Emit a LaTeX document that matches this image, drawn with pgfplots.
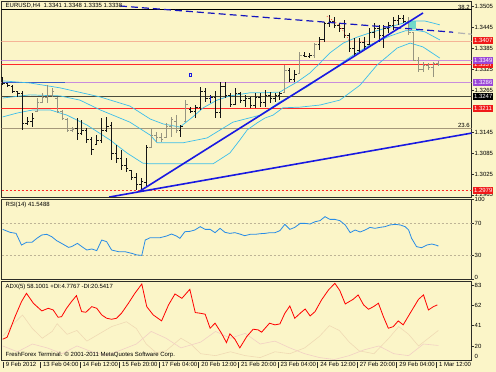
\documentclass[border=0pt]{standalone}
\usepackage{pgfplots}
\pgfplotsset{compat=1.18}
\usepackage{pgfplotstable}
\usepackage{fontspec}
\setmainfont{Liberation Sans}
\newcommand{\lbl}{\fontsize{6}{7}\selectfont}

\definecolor{bgc}{RGB}{251,245,200}
\definecolor{frm}{RGB}{45,45,40}
\definecolor{barK}{RGB}{20,20,20}
\definecolor{barG}{RGB}{150,148,128}
\definecolor{bband}{RGB}{60,190,235}
\definecolor{rsic}{RGB}{40,140,230}
\definecolor{tblue}{RGB}{25,25,225}
\definecolor{dblue}{RGB}{20,20,190}
\definecolor{sblue}{RGB}{60,90,200}
\definecolor{salmon}{RGB}{245,180,150}
\definecolor{lpurp}{RGB}{200,140,220}
\definecolor{bpurp}{RGB}{155,70,215}
\definecolor{lred}{RGB}{255,40,40}
\definecolor{bred}{RGB}{240,25,25}
\definecolor{dline}{RGB}{75,75,60}
\definecolor{tan}{RGB}{165,152,122}
\definecolor{lvl}{RGB}{190,180,150}
\definecolor{di1}{RGB}{240,218,180}
\definecolor{di2}{RGB}{242,208,196}
\definecolor{teal2}{RGB}{80,210,200}

% bars: i open high low close (black)
\pgfplotstableread{
i O H L C
0 1.3300 1.3302 1.3279 1.3285
1 1.3283 1.3285 1.3274 1.3278
2 1.3276 1.3279 1.3257 1.3262
3 1.3260 1.3262 1.3245 1.3255
4 1.3255 1.3262 1.3151 1.3170
5 1.3170 1.3188 1.3165 1.3175
6 1.3175 1.3199 1.3159 1.3185
15 1.3155 1.3185 1.3122 1.3140
16 1.3140 1.3179 1.3136 1.3150
17 1.3150 1.3157 1.3114 1.3125
18 1.3125 1.3130 1.3079 1.3095
19 1.3110 1.3136 1.3108 1.3120
20 1.3120 1.3185 1.3114 1.3150
21 1.3150 1.3188 1.3145 1.3160
22 1.3165 1.3173 1.3065 1.3085
23 1.3085 1.3108 1.3056 1.3070
24 1.3070 1.3094 1.3036 1.3050
25 1.3050 1.3071 1.3031 1.3040
26 1.3035 1.3036 1.3008 1.3015
27 1.3015 1.3028 1.2979 1.2995
28 1.2995 1.3014 1.2979 1.3005
29 1.3000 1.3108 1.2988 1.3100
36 1.3150 1.3165 1.3130 1.3160
38 1.3210 1.3216 1.3199 1.3205
39 1.3205 1.3222 1.3185 1.3215
40 1.3215 1.3274 1.3208 1.3260
41 1.3260 1.3271 1.3231 1.3240
42 1.3240 1.3251 1.3228 1.3245
43 1.3245 1.3262 1.3185 1.3200
44 1.3200 1.3288 1.3185 1.3275
45 1.3275 1.3288 1.3242 1.3250
46 1.3250 1.3257 1.3216 1.3225
47 1.3225 1.3271 1.3222 1.3255
48 1.3255 1.3259 1.3228 1.3235
49 1.3235 1.3251 1.3216 1.3240
50 1.3240 1.3245 1.3213 1.3220
51 1.3220 1.3257 1.3213 1.3245
52 1.3245 1.3257 1.3216 1.3230
53 1.3230 1.3265 1.3216 1.3250
54 1.3250 1.3259 1.3228 1.3240
55 1.3240 1.3257 1.3231 1.3250
56 1.3250 1.3259 1.3236 1.3255
58 1.3320 1.3328 1.3288 1.3295
59 1.3295 1.3322 1.3288 1.3310
61 1.3365 1.3373 1.3359 1.3362
62 1.3362 1.3371 1.3356 1.3365
64 1.3395 1.3417 1.3379 1.3410
65 1.3410 1.3459 1.3402 1.3455
66 1.3455 1.3479 1.3445 1.3460
67 1.3460 1.3473 1.3442 1.3450
68 1.3450 1.3456 1.3431 1.3440
69 1.3440 1.3465 1.3413 1.3420
70 1.3420 1.3428 1.3374 1.3385
71 1.3385 1.3414 1.3359 1.3370
72 1.3378 1.3414 1.3374 1.3400
73 1.3400 1.3417 1.3379 1.3390
74 1.3395 1.3442 1.3393 1.3430
75 1.3430 1.3456 1.3413 1.3440
76 1.3440 1.3451 1.3402 1.3420
77 1.3420 1.3451 1.3385 1.3440
78 1.3440 1.3459 1.3428 1.3450
79 1.3450 1.3473 1.3436 1.3465
80 1.3465 1.3479 1.3451 1.3470
81 1.3470 1.3479 1.3456 1.3462
}\barsK

% bars (grey)
\pgfplotstableread{
i O H L C
7 1.3205 1.3242 1.3202 1.3230
8 1.3230 1.3257 1.3228 1.3245
9 1.3245 1.3279 1.3228 1.3250
10 1.3250 1.3271 1.3245 1.3260
11 1.3240 1.3245 1.3199 1.3205
12 1.3205 1.3208 1.3179 1.3185
13 1.3180 1.3185 1.3145 1.3150
14 1.3150 1.3159 1.3145 1.3152
30 1.3100 1.3157 1.3099 1.3135
31 1.3135 1.3145 1.3117 1.3130
32 1.3130 1.3142 1.3117 1.3125
33 1.3130 1.3171 1.3128 1.3160
34 1.3160 1.3188 1.3130 1.3180
35 1.3175 1.3193 1.3142 1.3150
37 1.3175 1.3236 1.3173 1.3225
57 1.3257 1.3336 1.3257 1.3320
60 1.3313 1.3373 1.3313 1.3365
63 1.3365 1.3399 1.3356 1.3395
82 1.3462 1.3473 1.3422 1.3430
83 1.3430 1.3431 1.3348 1.3350
84 1.3350 1.3359 1.3316 1.3325
85 1.3325 1.3345 1.3316 1.3335
86 1.3335 1.3342 1.3322 1.3330
87 1.3330 1.3345 1.3302 1.3341
88 1.3341 1.3348 1.3335 1.3338
}\barsG

\pgfplotsset{
  mtpanel/.style={scale only axis, width=470pt, anchor=south west,
    xmin=-0.24, xmax=94.7, clip mode=individual,
    axis background/.style={fill=bgc},
    axis line style={draw=frm, line width=0.8pt},
    tick style={draw=frm, line width=0.5pt},
    ytick pos=right, yticklabel pos=right, tick align=outside,
    major tick length=2pt,
    yticklabel style={font=\lbl, anchor=west, inner sep=1pt},
    xtick=\empty},
  ohlcV/.style={color=#1, only marks, mark=*, mark size=0pt,
    error bars/.cd, y dir=both, y explicit, error mark=none,
    error bar style={line width=0.85pt, color=#1}},
  ohlcT/.style={color=#1, only marks, mark=-, mark size=1.0pt, line width=0.7pt},
  hl/.style={mark=none, line width=#1},
}

\begin{document}
\begin{tikzpicture}
\useasboundingbox (0,0) rectangle (496pt,372pt);
\fill[bgc] (0,0) rectangle (496pt,372pt);

% ================= MAIN PRICE PANEL =================
\begin{axis}[mtpanel, at={(1.5pt,175pt)}, height=196pt,
  ymin=1.29592, ymax=1.35192,
  ytick={1.2965,1.3025,1.3085,1.3145,1.3265,1.3325,1.3385,1.3445,1.3505},
  yticklabels={\raisebox{1pt}{1.2965},1.3025,1.3085,1.3145,1.3265,1.3325,1.3385,1.3445,1.3505}]

% horizontal levels
\addplot[hl=0.8pt, black] coordinates {(-1,1.3494) (96,1.3494)};
\addplot[hl=0.8pt, salmon] coordinates {(-1,1.3405) (96,1.3405)};
\addplot[hl=0.8pt, lpurp] coordinates {(-1,1.3349) (96,1.3349)};
\addplot[hl=0.8pt, lred] coordinates {(-1,1.3337) (96,1.3337)};
\addplot[hl=0.8pt, lpurp] coordinates {(-1,1.3286) (96,1.3286)};
\addplot[hl=0.8pt, dline] coordinates {(-1,1.3247) (96,1.3247)};
\addplot[hl=0.8pt, lred] coordinates {(-1,1.3211) (96,1.3211)};
\addplot[hl=0.8pt, tan] coordinates {(-1,1.3156) (96,1.3156)};
\addplot[hl=0.8pt, lred, dash pattern=on 2pt off 2pt] coordinates {(-1,1.2979) (96,1.2979)};
\addplot[hl=1.3pt, sblue] coordinates {(0,1.3286) (12.6,1.3286)};

% Bollinger bands
\addplot[hl=0.7pt, bband] coordinates {(0,1.3291)(5.5,1.3285)(11.6,1.3271)(19.7,1.3245)(25.7,1.3219)(29.8,1.3182)(32.4,1.3168)(35.8,1.3159)(38.4,1.3188)(40.5,1.3214)(43.3,1.3236)(45.9,1.3248)(50.0,1.3257)(52.6,1.3257)(56.0,1.3259)(57.4,1.3271)(59.5,1.3288)(62.1,1.3314)(64.1,1.3342)(66.1,1.3371)(68.8,1.3399)(71.6,1.3416)(74.8,1.3431)(78.2,1.3445)(80.9,1.3456)(82.9,1.3462)(85.3,1.3462)(87.0,1.3456)(88.3,1.3451)};
\addplot[hl=0.7pt, bband] coordinates {(0,1.3242)(5.5,1.3251)(11.6,1.3248)(15.6,1.3236)(19.7,1.3208)(25.7,1.3173)(29.8,1.3136)(31.2,1.3114)(36.4,1.3114)(41.3,1.3128)(46.5,1.3173)(52.0,1.3193)(56.0,1.3231)(58.6,1.3251)(61.5,1.3274)(64.1,1.3299)(67.1,1.3328)(70.2,1.3359)(74.2,1.3394)(78.2,1.3419)(81.3,1.3434)(83.3,1.3436)(85.3,1.3431)(88.3,1.3408)};
\addplot[hl=0.7pt, bband] coordinates {(0,1.3188)(2.9,1.3199)(6.1,1.3208)(9.6,1.3208)(13.0,1.3193)(17.0,1.3165)(21.7,1.3122)(25.1,1.3085)(28.3,1.3056)(29.8,1.3054)(42.5,1.3054)(45.9,1.3085)(47.9,1.3122)(49.4,1.3151)(51.4,1.3171)(53.0,1.3185)(54.6,1.3193)(56.6,1.3214)(60.1,1.3216)(64.1,1.3222)(68.1,1.3236)(72.2,1.3279)(75.6,1.3336)(79.7,1.3385)(82.3,1.3399)(84.9,1.3388)(88.3,1.3356)};

% teal box
\addplot[fill=teal2, draw=none, fill opacity=0.8] coordinates {(81.9,1.3440)(83.4,1.3440)(83.4,1.3463)(81.9,1.3463)} -- cycle;

% bars
\addplot[ohlcV=barK] table[x=i, y expr={(\thisrow{H}+\thisrow{L})/2}, y error expr={(\thisrow{H}-\thisrow{L})/2}] {\barsK};
\addplot[ohlcT=barK] table[x expr={\thisrow{i}-0.2}, y=O] {\barsK};
\addplot[ohlcT=barK] table[x expr={\thisrow{i}+0.2}, y=C] {\barsK};
\addplot[ohlcV=barG] table[x=i, y expr={(\thisrow{H}+\thisrow{L})/2}, y error expr={(\thisrow{H}-\thisrow{L})/2}] {\barsG};
\addplot[ohlcT=barG] table[x expr={\thisrow{i}-0.2}, y=O] {\barsG};
\addplot[ohlcT=barG] table[x expr={\thisrow{i}+0.2}, y=C] {\barsG};

% trend lines
\addplot[hl=1.6pt, tblue] coordinates {(27.7,1.2976) (84.9,1.3485)};
\addplot[hl=1.6pt, tblue] coordinates {(21.5,1.2959) (94.8,1.3142)};
\addplot[hl=1.2pt, dblue, dash pattern=on 7pt off 4pt] coordinates {(23.7,1.3505) (91.0,1.3430)};
\addplot[hl=1.2pt, gray!60, dash pattern=on 7pt off 3pt] coordinates {(92.0,1.3428) (95,1.3424)};
\addplot[hl=0.7pt, lred, dotted] coordinates {(65.5,1.3476) (68,1.3450) (70.2,1.3402)};

% objects
\addplot[only marks, mark=square, mark size=1.4pt, tblue, line width=0.8pt] coordinates {(37.9,1.3308)};
\addplot[only marks, mark=|, mark size=2.5pt, tblue, line width=0.9pt] coordinates {(41.9,1.3240)};

% titles
\node[anchor=north west, font=\lbl, inner sep=0pt, xshift=4pt, yshift=-2.5pt] at (rel axis cs:0,1) {EURUSD,H4 \ 1.3341 1.3348 1.3335 1.3338};
\node[anchor=south east, font=\lbl, inner sep=0.5pt, xshift=-1pt] at (axis cs:94.7,1.3494) {38.2};
\node[anchor=south east, font=\lbl, inner sep=0.5pt, xshift=-1pt] at (axis cs:94.7,1.3156) {23.6};

\coordinate (b1) at (axis cs:94.7,1.3407);
\coordinate (b2) at (axis cs:94.7,1.3349);
\coordinate (b3) at (axis cs:94.7,1.3337);
\coordinate (b4) at (axis cs:94.7,1.3286);
\coordinate (b5) at (axis cs:94.7,1.3247);
\coordinate (b6) at (axis cs:94.7,1.3211);
\coordinate (b7) at (axis cs:94.7,1.2979);
\end{axis}

\begin{scope}[every node/.style={anchor=west, font=\lbl, text=white, inner xsep=1pt, inner ysep=0pt, minimum height=7pt, xshift=1.3pt}]
\node[fill=bred] at (b1) {1.3407};
\node[fill=bred] at (b3) {1.3337};
\node[fill=bpurp] at (b2) {1.3349};
\node[fill=bpurp] at (b4) {1.3286};
\node[fill=black] at (b5) {1.3247};
\node[fill=bred] at (b6) {1.3211};
\node[fill=bred] at (b7) {1.2979};
\end{scope}

% ================= RSI PANEL =================
\begin{axis}[mtpanel, at={(1.5pt,92.7pt)}, height=80pt,
  ymin=0, ymax=100, ytick={0,30,70,100},
  yticklabels={\raisebox{3pt}{0},30,70,\raisebox{-3.5pt}{100}}]
\addplot[hl=0.7pt, lvl, dash pattern=on 2pt off 2pt] coordinates {(-1,70) (96,70)};
\addplot[hl=0.7pt, lvl, dash pattern=on 2pt off 2pt] coordinates {(-1,30) (96,30)};
\addplot[hl=0.8pt, rsic] coordinates {(0,62.4)(1.5,58.7)(2.7,57.4)(3.8,42.8)(4.8,46.2)(5.9,46.2)(6.9,51.2)(7.9,55.4)(8.9,56.2)(9.9,53.3)(10.9,48.3)(11.9,44.9)(13.3,39.9)(13.9,40.8)(15.1,44.9)(16,40.8)(17,36.6)(18,37.9)(19,35.8)(20,49.1)(21,47.0)(22,36.6)(23.4,34.5)(24.7,34.5)(26.1,32.4)(27.1,30.4)(28.1,29.9)(28.8,49.1)(29.8,52.0)(30.8,52.0)(31.8,52.0)(33.1,54.1)(34.1,56.6)(35.1,54.1)(35.8,51.2)(36.8,59.5)(37.8,59.9)(38.8,61.6)(39.9,65.8)(40.9,62.4)(41.9,62.4)(42.9,58.3)(43.9,63.7)(44.9,58.7)(45.9,57.4)(46.9,58.3)(47.9,56.6)(48.9,54.5)(50,56.2)(51,56.2)(52,57.0)(53,57.4)(54,58.3)(55,58.3)(56,60.8)(57,68.7)(58,62.4)(59,64.9)(60.1,69.9)(61.1,69.9)(62.1,69.1)(63.1,72.0)(64.1,73.3)(65.1,78.3)(66.1,74.9)(67.1,74.9)(68.1,73.3)(69.2,67.9)(70.2,58.3)(71.2,61.6)(72.2,59.1)(73.2,61.6)(74.2,64.9)(75.2,63.7)(76.2,64.9)(77.2,65.8)(78.2,67.9)(79.3,68.7)(80.3,67.9)(81.3,65.8)(82,61.6)(82.6,51.2)(83.6,40.8)(84.6,39.5)(85.7,42.9)(86.7,44.1)(87.7,42.4)(88,41.5)};
\node[anchor=north west, font=\lbl, inner sep=0pt, xshift=4pt, yshift=-2.5pt] at (rel axis cs:0,1) {RSI(14) 41.5488};
\end{axis}

% ================= ADX PANEL =================
\begin{axis}[mtpanel, at={(1.5pt,12pt)}, height=79pt,
  ymin=5.5, ymax=87.1, ytick={20,41,62,83}, yticklabels={20,41,62,83},
  xtick={0,7.5,15.5,23.5,31.5,39.5,47.5,55.5,63.5,71.5,79.5,87.5},
  xtick pos=bottom,
  xtick style={draw=none},
  xticklabel style={font=\lbl, anchor=north west, inner sep=0pt, yshift=0.5pt},
  xticklabels={
    {\textcolor{frm}{\rule[-1pt]{0.5pt}{6pt}}\hspace{2.5pt}9 Feb 2012},
    {\textcolor{frm}{\rule[-1pt]{0.5pt}{6pt}}\hspace{2.5pt}13 Feb 04:00},
    {\textcolor{frm}{\rule[-1pt]{0.5pt}{6pt}}\hspace{2.5pt}14 Feb 12:00},
    {\textcolor{frm}{\rule[-1pt]{0.5pt}{6pt}}\hspace{2.5pt}15 Feb 20:00},
    {\textcolor{frm}{\rule[-1pt]{0.5pt}{6pt}}\hspace{2.5pt}17 Feb 04:00},
    {\textcolor{frm}{\rule[-1pt]{0.5pt}{6pt}}\hspace{2.5pt}20 Feb 12:00},
    {\textcolor{frm}{\rule[-1pt]{0.5pt}{6pt}}\hspace{2.5pt}21 Feb 20:00},
    {\textcolor{frm}{\rule[-1pt]{0.5pt}{6pt}}\hspace{2.5pt}23 Feb 04:00},
    {\textcolor{frm}{\rule[-1pt]{0.5pt}{6pt}}\hspace{2.5pt}24 Feb 12:00},
    {\textcolor{frm}{\rule[-1pt]{0.5pt}{6pt}}\hspace{2.5pt}27 Feb 20:00},
    {\textcolor{frm}{\rule[-1pt]{0.5pt}{6pt}}\hspace{2.5pt}29 Feb 04:00},
    {\textcolor{frm}{\rule[-1pt]{0.5pt}{6pt}}\hspace{2.5pt}1 Mar 12:00}}]
\addplot[hl=0.6pt, di1] coordinates {(0,30)(2,42)(4,52)(6,38)(8,28)(10,35)(11,43)(13,32)(15,36)(17,25)(19,31)(22,40)(25,45)(27,38)(29,22)(31,13)(33,15)(36,28)(38,22)(40,12)(43,10)(46,14)(49,10)(52,8)(55,14)(58,12)(61,18)(64,30)(66,41)(68,36)(70,24)(72,15)(75,12)(78,28)(80,40)(82,32)(84,20)(86,28)(88,36)};
\addplot[hl=0.6pt, di2] coordinates {(0,20)(3,14)(6,22)(9,18)(12,12)(15,20)(18,14)(21,10)(24,16)(27,22)(30,35)(33,28)(36,18)(40,24)(43,35)(46,28)(49,33)(52,22)(55,25)(58,18)(61,12)(64,8)(67,6)(70,10)(73,16)(76,20)(79,12)(82,10)(85,22)(88,20.5)};
\addplot[hl=0.8pt, red] coordinates {(0,27.0)(0.9,29.0)(2.5,50.3)(3.8,65.8)(4.8,74.4)(6.2,64.1)(7.9,56.2)(9.2,58.9)(10.2,57.2)(11.2,49.6)(11.9,50.3)(12.9,58.9)(13.9,65.8)(14.9,72.0)(15.95,55.5)(16.8,54.8)(18,60.6)(19,58.9)(20,52.1)(21,48.6)(22,47.6)(23,48.6)(24,53.8)(25.4,64.1)(26.7,74.4)(28.1,84.0)(29.1,60.6)(30.4,52.1)(32.1,45.9)(33.5,62.4)(34.8,73.7)(36.2,69.2)(37.8,78.5)(38.9,54.5)(39.9,53.8)(40.9,52.8)(41.9,38.3)(42.9,43.5)(44.2,33.1)(45.2,23.5)(45.9,32.5)(46.9,27.0)(47.9,18.0)(49.3,29.7)(50.6,37.3)(51.6,36.6)(52.3,34.2)(53.9,43.5)(55,41.8)(56,42.8)(57,53.8)(58,61.3)(59,48.6)(60.1,53.8)(61.1,58.2)(62.1,51.0)(63.1,55.5)(64.4,67.5)(65.8,77.8)(67.1,84.7)(68.1,77.2)(69.2,63.4)(70.8,68.2)(71.8,72.7)(72.9,62.4)(73.9,57.9)(74.9,60.6)(75.9,64.1)(76.9,50.3)(77.9,38.3)(78.9,40.0)(79.9,45.9)(80.9,41.8)(82.3,53.8)(84,68.2)(85,72.7)(86,57.2)(87,60.6)(87.8,62.4)};
\node[anchor=north west, font=\lbl, inner sep=0pt, xshift=4pt, yshift=-3pt] at (rel axis cs:0,1) {ADX(5) 58.1001 +DI:4.7767 -DI:20.5417};
\node[anchor=south west, font=\lbl, inner sep=0pt, xshift=4pt, yshift=2.5pt] at (rel axis cs:0,0) {FreshForex Terminal. \textcopyright{} 2001-2011 MetaQuotes Software Corp.};
\node[anchor=south west, font=\lbl, inner sep=0pt, xshift=3pt, yshift=1pt] at (rel axis cs:1,0) {0};
\end{axis}
\end{tikzpicture}
\end{document}
